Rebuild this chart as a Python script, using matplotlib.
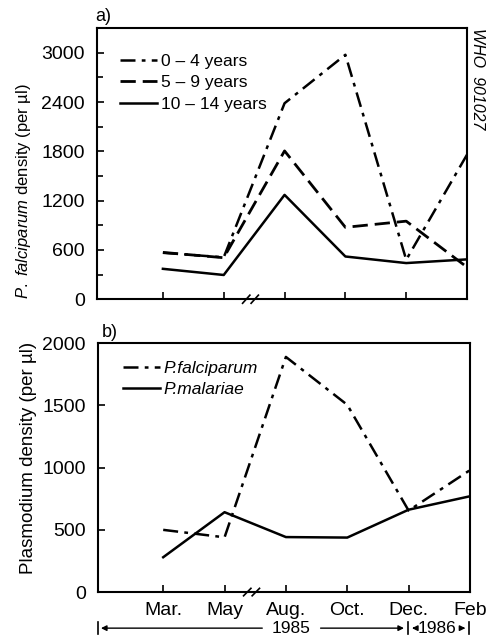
import matplotlib
matplotlib.use("Agg")
import matplotlib.pyplot as plt

plt.rcParams['font.family'] = ['Liberation Sans', 'DejaVu Sans']
plt.rcParams['mathtext.fontset'] = 'custom'
plt.rcParams['mathtext.rm'] = 'Liberation Sans'
plt.rcParams['mathtext.it'] = 'Liberation Sans:italic'

# data
months = ["Mar.", "May", "Aug.", "Oct.", "Dec.", "Feb"]
age_0_4 = [565, 510, 2385, 2975, 480, 1760]
age_5_9 = [570, 505, 1805, 875, 950, 390]
age_10_14 = [370, 295, 1270, 520, 440, 485]

falciparum = [500, 440, 1890, 1505, 655, 980]
malariae = [280, 642, 442, 438, 662, 770]

years = ["1985", "1986"]

x = list(range(len(months)))

fig = plt.figure(figsize=(4.86, 6.38), dpi=100)
ax1 = fig.add_axes([0.200, 0.531, 0.761, 0.425])
ax2 = fig.add_axes([0.202, 0.072, 0.765, 0.390])

leg_kw = dict(loc='upper left', frameon=False, handlelength=2.1, handletextpad=0.25,
              labelspacing=0.35, borderpad=0, borderaxespad=0)

# ---- panel a
ax1.plot(x, age_0_4, color='black', lw=1.8, dashes=(6, 2.5, 1.5, 2.5), label="0 – 4 years")
ax1.plot(x, age_5_9, color='black', lw=2.0, dashes=(5.5, 2.5), label="5 – 9 years")
ax1.plot(x, age_10_14, color='black', lw=1.8, label="10 – 14 years")
ax1.set_xlim(-1.08, 5)
ax1.set_ylim(0, 3300)
ax1.set_yticks([0, 600, 1200, 1800, 2400, 3000])
ax1.set_yticks(range(300, 3300, 600), minor=True)
ax1.set_xticks(x)
ax1.set_xticklabels([])
ax1.set_ylabel(r"$\it{P.\ falciparum}$ density (per µl)", fontsize=12)
ax1.yaxis.set_label_coords(-0.173, 0.40)
ax1.legend(bbox_to_anchor=(0.062, 0.904), fontsize=12.5, **leg_kw)
ax1.text(-0.005, 1.01, "a)", transform=ax1.transAxes, fontsize=13, va='bottom')
ax1.text(1.028, 1.0, "WHO  901027", transform=ax1.transAxes, rotation=270,
         fontsize=11.5, style='italic', va='top', ha='center')

# ---- panel b
ax2.plot(x, falciparum, color='black', lw=1.8, dashes=(6, 2.5, 1.5, 2.5), label="P.falciparum")
ax2.plot(x, malariae, color='black', lw=1.8, label="P.malariae")
ax2.set_xlim(-1.06, 5)
ax2.set_ylim(0, 2000)
ax2.set_yticks([0, 500, 1000, 1500, 2000])
ax2.set_xticks(x)
ax2.set_xticklabels(months)
ax2.set_ylabel("Plasmodium density (per µl)", fontsize=13.5)
ax2.yaxis.set_label_coords(-0.164, 0.54)
ax2.legend(bbox_to_anchor=(0.067, 0.93), prop={'size': 12.5, 'style': 'italic'}, **leg_kw)
ax2.text(0.01, 1.01, "b)", transform=ax2.transAxes, fontsize=13, va='bottom')

for ax in (ax1, ax2):
    for s in ax.spines.values():
        s.set_linewidth(1.5)
    ax.tick_params(which='both', direction='in', width=1.2, labelsize=14)
    ax.tick_params(which='major', length=5)
    ax.tick_params(which='minor', length=4)
    ax.tick_params(axis='x', pad=7)
    ax.tick_params(axis='y', pad=9)
    # axis break marks between May and Aug.
    tr = ax.get_xaxis_transform()
    for dx in (-0.07, 0.07):
        ax.plot([1.38 + dx, 1.50 + dx], [-0.015, 0.015], color='black', lw=1.2,
                transform=tr, clip_on=False)

# year bar under panel b
tr = ax2.get_xaxis_transform()
yb = -0.145
arr = dict(arrowstyle='-|>', color='black', lw=1.0, mutation_scale=8)
ax2.annotate("", xy=(-1.06, yb), xytext=(1.66, yb), xycoords=tr, textcoords=tr, arrowprops=arr)
ax2.annotate("", xy=(3.97, yb), xytext=(2.52, yb), xycoords=tr, textcoords=tr, arrowprops=arr)
ax2.annotate("", xy=(4.01, yb), xytext=(4.15, yb), xycoords=tr, textcoords=tr, arrowprops=arr)
ax2.annotate("", xy=(4.97, yb), xytext=(4.83, yb), xycoords=tr, textcoords=tr, arrowprops=arr)
ax2.text(2.08, yb, years[0], transform=tr, ha='center', va='center', fontsize=12.5)
ax2.text(4.47, yb, years[1], transform=tr, ha='center', va='center', fontsize=12.5)
for xe in (-1.06, 3.99, 4.98):
    ax2.plot([xe, xe], [yb - 0.025, yb + 0.025], color='black', lw=1.2,
             transform=tr, clip_on=False)

fig.savefig("out.png", dpi=100)
